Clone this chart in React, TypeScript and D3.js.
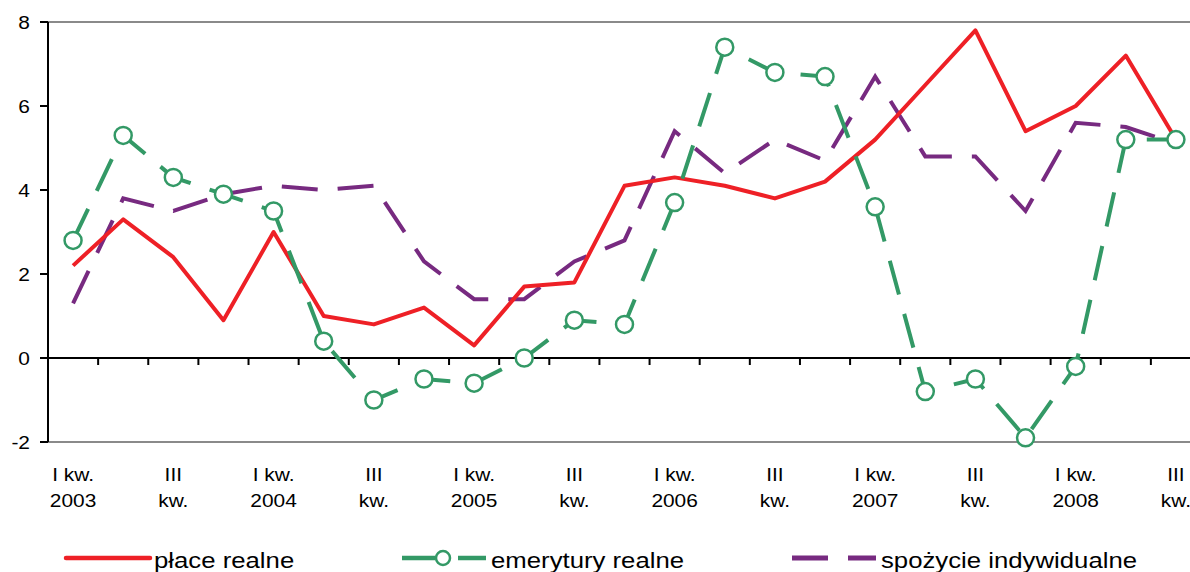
import { useEffect, useRef } from "react";
import * as d3 from "d3";

// kwartały: I kw. 2003 ... III kw. 2008
const quarters = [
  "2003Q1", "2003Q2", "2003Q3", "2003Q4",
  "2004Q1", "2004Q2", "2004Q3", "2004Q4",
  "2005Q1", "2005Q2", "2005Q3", "2005Q4",
  "2006Q1", "2006Q2", "2006Q3", "2006Q4",
  "2007Q1", "2007Q2", "2007Q3", "2007Q4",
  "2008Q1", "2008Q2", "2008Q3",
];

const placeRealne = [
  2.2, 3.3, 2.4, 0.9, 3.0, 1.0, 0.8, 1.2, 0.3, 1.7, 1.8, 4.1,
  4.3, 4.1, 3.8, 4.2, 5.2, 6.5, 7.8, 5.4, 6.0, 7.2, 5.2,
];
const emeryturyRealne = [
  2.8, 5.3, 4.3, 3.9, 3.5, 0.4, -1.0, -0.5, -0.6, 0.0, 0.9, 0.8,
  3.7, 7.4, 6.8, 6.7, 3.6, -0.8, -0.5, -1.9, -0.2, 5.2, 5.2,
];
const spozycieIndywidualne = [
  1.3, 3.8, 3.5, 3.9, 4.1, 4.0, 4.1, 2.3, 1.4, 1.4, 2.3, 2.8,
  5.4, 4.4, 5.2, 4.7, 6.7, 4.8, 4.8, 3.5, 5.6, 5.5, 5.1,
];

const xLabels = [
  ["I kw.", "2003"], ["III", "kw."], ["I kw.", "2004"], ["III", "kw."],
  ["I kw.", "2005"], ["III", "kw."], ["I kw.", "2006"], ["III", "kw."],
  ["I kw.", "2007"], ["III", "kw."], ["I kw.", "2008"], ["III", "kw."],
];
const yTicks = [-2, 0, 2, 4, 6, 8];

const RED = "#ee2026";
const GREEN = "#339966";
const PURPLE = "#772a80";
const FONT = "'Liberation Sans', Arial, sans-serif";

export default function App() {
  const svgRef = useRef<SVGSVGElement | null>(null);
  const width = 1190;
  const height = 572;

  useEffect(() => {
    if (!svgRef.current) return;
    const svg = d3.select(svgRef.current);
    svg.selectAll("*").remove();

    const left = 48;
    const x = d3.scalePoint<string>().domain(quarters).range([left, 1201]).padding(0.5);
    const step = x.step();
    const y = d3.scaleLinear().domain([-2, 8]).range([442, 22]);

    // ramka: szare linie góra / dół
    svg.append("line").attr("x1", left).attr("x2", width).attr("y1", y(8)).attr("y2", y(8))
      .attr("stroke", "#8a8a8a").attr("stroke-width", 2);
    svg.append("line").attr("x1", left).attr("x2", width).attr("y1", y(-2)).attr("y2", y(-2))
      .attr("stroke", "#8a8a8a").attr("stroke-width", 2);

    // oś Y
    svg.append("line").attr("x1", left).attr("x2", left).attr("y1", y(8)).attr("y2", y(-2))
      .attr("stroke", "#000").attr("stroke-width", 2);
    const yg = svg.append("g");
    yTicks.forEach((t) => {
      yg.append("line").attr("x1", left - 8).attr("x2", left).attr("y1", y(t)).attr("y2", y(t))
        .attr("stroke", "#000").attr("stroke-width", 2);
      yg.append("text")
        .attr("transform", `translate(30,${y(t) + 7}) scale(1.1,1)`)
        .attr("text-anchor", "end")
        .attr("font-family", FONT).attr("font-size", 19).attr("fill", "#000")
        .text(t);
    });

    // linia zera z podziałką
    svg.append("line").attr("x1", left).attr("x2", width).attr("y1", y(0)).attr("y2", y(0))
      .attr("stroke", "#000").attr("stroke-width", 2);
    quarters.forEach((q, i) => {
      if (i === 0) return;
      const tx = (x(q) as number) - step / 2;
      svg.append("line").attr("x1", tx).attr("x2", tx).attr("y1", y(0)).attr("y2", y(0) + 7)
        .attr("stroke", "#000").attr("stroke-width", 2);
    });

    // etykiety osi X
    xLabels.forEach((lab, k) => {
      const cx = x(quarters[k * 2]) as number;
      lab.forEach((s, j) => {
        svg.append("text")
          .attr("transform", `translate(${cx},${481 + j * 26}) scale(1.1,1)`)
          .attr("text-anchor", "middle")
          .attr("font-family", FONT).attr("font-size", 19).attr("fill", "#000")
          .text(s);
      });
    });

    const line = d3.line<number>()
      .x((_, i) => x(quarters[i]) as number)
      .y((d) => y(d));

    svg.append("path").datum(spozycieIndywidualne).attr("d", line)
      .attr("fill", "none").attr("stroke", PURPLE).attr("stroke-width", 4)
      .attr("stroke-dasharray", "36,20").attr("stroke-linejoin", "miter");

    svg.append("path").datum(placeRealne).attr("d", line)
      .attr("fill", "none").attr("stroke", RED).attr("stroke-width", 4)
      .attr("stroke-linejoin", "round");

    svg.append("path").datum(emeryturyRealne).attr("d", line)
      .attr("fill", "none").attr("stroke", GREEN).attr("stroke-width", 4)
      .attr("stroke-dasharray", "35,20");

    svg.append("g").selectAll("circle").data(emeryturyRealne).enter().append("circle")
      .attr("cx", (_, i) => x(quarters[i]) as number)
      .attr("cy", (d) => y(d))
      .attr("r", 8.5)
      .attr("fill", "#fff").attr("stroke", GREEN).attr("stroke-width", 2.5);

    // legenda
    const ly = 558;
    const lg = svg.append("g");
    lg.append("line").attr("x1", 66).attr("x2", 150).attr("y1", ly).attr("y2", ly)
      .attr("stroke", RED).attr("stroke-width", 4.5).attr("stroke-linecap", "round");
    lg.append("line").attr("x1", 402).attr("x2", 435).attr("y1", ly).attr("y2", ly)
      .attr("stroke", GREEN).attr("stroke-width", 4.5);
    lg.append("line").attr("x1", 458).attr("x2", 486).attr("y1", ly).attr("y2", ly)
      .attr("stroke", GREEN).attr("stroke-width", 4.5);
    lg.append("circle").attr("cx", 443).attr("cy", ly).attr("r", 7)
      .attr("fill", "#fff").attr("stroke", GREEN).attr("stroke-width", 2.5);
    lg.append("line").attr("x1", 792).attr("x2", 876).attr("y1", ly).attr("y2", ly)
      .attr("stroke", PURPLE).attr("stroke-width", 5).attr("stroke-dasharray", "36,20");

    const legendText = [
      { x: 154, t: "płace realne" },
      { x: 491, t: "emerytury realne" },
      { x: 881, t: "spożycie indywidualne" },
    ];
    legendText.forEach((d) => {
      lg.append("text")
        .attr("transform", `translate(${d.x},${ly + 10}) scale(1.17,1)`)
        .attr("font-family", FONT).attr("font-size", 22).attr("fill", "#000")
        .text(d.t);
    });
  }, []);

  return (
    <div style={{ position: "absolute", left: 0, top: 0 }}>
      <svg ref={svgRef} width={width} height={height} style={{ display: "block" }} />
    </div>
  );
}
